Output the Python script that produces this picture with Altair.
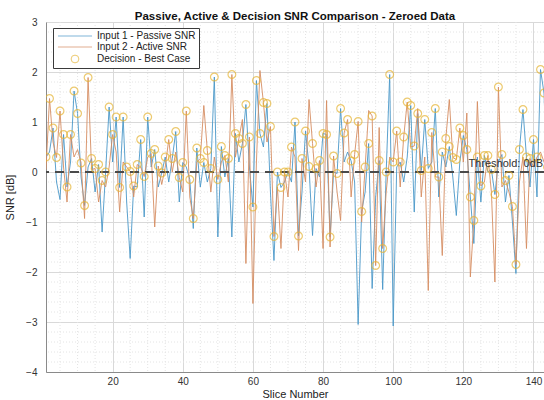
import altair as alt
import pandas as pd

slices = list(range(1, 145))

decision = [0.30, 1.47, 0.88, 0.29, 1.22, 0.75, -0.30, 0.75, 1.62, 1.17,
            0.18, -0.67, 1.89, 0.27, 0.07, 0.15, -0.17, 0.00, 1.30, 0.75,
            1.10, -0.31, 1.10, 0.10, 0.01, -0.28, 0.15, 0.65, -0.09, 1.10,
            0.37, 0.45, 0.12, -0.02, 0.30, 0.65, 0.27, 0.81, -0.11, 0.19,
            1.22, -0.15, -0.93, 0.48, 0.27, 0.19, 0.43, 0.07, 1.90, -0.15,
            0.51, 0.33, 0.27, 1.95, 0.77, 0.67, 0.57, 1.35, 0.70, -0.70,
            1.83, 0.77, 1.39, 1.37, 0.91, -1.29, 0.00, -0.31, 0.00, 0.00,
            0.50, 1.00, -1.28, 0.27, 0.82, 0.11, 0.57, 0.07, 0.23, 0.77,
            0.75, -1.30, 0.32, -0.03, 1.27, 0.78, 1.05, 0.22, 0.35, 1.01,
            -0.79, 0.10, 0.57, 1.12, -1.87, 0.23, -1.53, 0.00, 1.95, 0.20,
            0.82, 0.20, 0.70, 1.40, 1.33, 0.52, 1.17, 0.03, 1.05, 0.07,
            0.79, 1.27, -0.10, 0.40, 0.67, 0.51, 0.29, 0.25, 0.88, 0.73,
            0.45, -0.50, -0.97, 0.30, -0.28, 0.33, 0.33, 0.05, -0.45, 1.70,
            0.35, -0.17, -0.07, -0.69, -1.85, 0.45, 1.25, 0.30, 0.27, 0.65,
            0.30, 2.05, 1.58, 0.10]

passive = [0.30, 0.40, 0.88, -0.20, -0.55, 0.75, -0.30, 0.20, 1.62, 1.17,
           -0.10, -0.67, 0.10, 0.27, -0.40, 0.15, -1.20, 0.00, 1.30, 0.20,
           1.10, -0.31, 1.10, -0.60, -1.73, -0.28, -0.30, 0.65, -0.90, 1.10,
           0.10, 0.45, -0.30, -0.02, 0.30, -0.20, 0.27, 0.81, -0.60, 0.19,
           0.10, -0.15, -1.13, 0.48, -0.30, 0.19, -0.20, 0.07, 1.90, -1.30,
           0.51, -0.10, 0.27, -1.30, 0.77, 0.20, 0.57, 1.35, 0.10, -0.70,
           1.83, 0.77, 0.50, 1.37, -0.40, -1.77, 0.00, -0.31, -0.20, 0.00,
           -0.20, 1.00, -1.28, -0.40, 0.82, 0.11, -1.27, 0.07, -0.10, 0.77,
           0.75, -1.30, 0.00, -0.03, 1.27, 0.20, 0.40, 0.22, -0.20, -3.05,
           -0.79, -0.40, 0.57, -2.33, -0.50, 0.23, -2.35, 0.00, 1.95, -3.08,
           0.10, 0.20, -0.20, 0.30, 1.33, -0.80, 1.17, 0.03, 1.05, 0.07,
           0.20, 1.27, -0.50, 0.40, 0.10, 0.51, -0.10, -0.87, 0.20, 0.73,
           0.45, -0.50, -1.43, 0.30, -0.60, 0.33, 0.00, 0.05, -0.45, 0.20,
           0.35, -0.60, -0.07, -1.00, -2.03, 0.45, 1.25, 0.30, -0.30, 0.65,
           -0.50, 2.05, 1.58, -0.30]

active = [0.05, 1.47, 0.60, 0.29, 1.22, 0.10, -0.60, 0.75, 0.30, 0.45,
          0.18, -0.93, 1.89, 0.05, 0.07, -0.60, -0.17, -0.30, 0.10, 0.75,
          0.40, -0.80, 0.20, 0.10, 0.01, -0.50, 0.15, 0.10, -0.09, 0.30,
          0.37, -1.10, 0.12, -0.25, 0.10, 0.65, 0.00, 0.40, -0.11, -0.40,
          1.22, -0.50, -0.93, 0.20, 0.27, 1.33, 0.43, -0.40, 0.30, -0.15,
          0.20, 0.33, -0.20, 1.95, 0.30, 0.67, 1.05, -1.83, 0.70, -2.63,
          0.20, 2.03, 1.39, 0.60, 0.91, -1.29, -0.30, -1.53, 0.00, -0.50,
          0.50, 0.30, -1.57, 0.27, -0.20, 1.45, 0.57, -0.30, 0.23, -1.53,
          1.43, -1.50, 0.32, -0.40, -0.97, 0.78, 1.05, -0.50, 0.35, 1.01,
          -1.00, 0.10, 1.23, 1.12, -1.87, 0.89, -1.53, -0.40, 0.30, 0.20,
          0.82, -0.30, 0.70, 1.40, 0.50, 0.52, 1.27, -0.50, 0.30, -2.37,
          0.79, -0.10, -0.10, -1.67, 0.67, 1.45, 0.29, 0.25, 0.88, 0.20,
          1.18, -2.10, -0.97, 1.41, -0.28, -0.20, 0.33, -0.40, -2.20, 1.70,
          -0.30, -0.17, -0.40, -0.69, -1.85, -0.20, 0.30, -1.53, 0.27, 0.10,
          0.30, 0.40, 0.20, 0.10]

series_names = ["Input 1 - Passive SNR", "Input 2 - Active SNR", "Decision - Best Case"]
series_colors = ["#4a97c8", "#d68d62", "#e6b535"]
threshold = [0]
threshold_label = ["Threshold: 0dB"]
x_ticks = [20, 40, 60, 80, 100, 120, 140]
y_ticks = [-4, -3, -2, -1, 0, 1, 2, 3]
minor_x = [v for v in range(5, 145, 5) if v % 20 != 0]
minor_y = [round(-4 + 0.2 * i, 1) for i in range(36) if abs(round(-4 + 0.2 * i, 1) % 1) > 1e-6]

rows = []
for i, s in enumerate(slices):
    rows.append({"x": s, "snr": passive[i], "series": series_names[0]})
    rows.append({"x": s, "snr": active[i], "series": series_names[1]})
    rows.append({"x": s, "snr": decision[i], "series": series_names[2]})
df = pd.DataFrame(rows)

FONT = "Liberation Sans"
xscale = alt.Scale(domain=[1, 143], nice=False, zero=False)
yscale = alt.Scale(domain=[-4, 3], nice=False, zero=False)

legend = alt.Legend(
    title=None, orient="none", legendX=7, legendY=6,
    fillColor="white", strokeColor="#3a3a3a", padding=3,
    labelFont=FONT, labelFontSize=10, labelColor="#222",
    symbolSize=60, symbolStrokeWidth=1, symbolOffset=14, labelOffset=17,
    rowPadding=1, cornerRadius=0,
)
color = alt.Color("series:N", scale=alt.Scale(domain=series_names, range=series_colors), legend=legend)
shape = alt.Shape("series:N", scale=alt.Scale(domain=series_names,
                  range=["M-4.4,0H4.4", "M-4.4,0H4.4", "circle"]), legend=legend)

base = alt.Chart(df)

minor_x_grid = alt.Chart(pd.DataFrame({"v": minor_x})).mark_rule(
    color="#e4e4e4", strokeDash=[1, 2], strokeWidth=1
).encode(x=alt.X("v:Q", scale=xscale))
minor_y_grid = alt.Chart(pd.DataFrame({"v": minor_y})).mark_rule(
    color="#e4e4e4", strokeDash=[1, 2], strokeWidth=1
).encode(y=alt.Y("v:Q", scale=yscale))

axis_x = alt.Axis(values=x_ticks, title="Slice Number", grid=True, gridColor="#d9d9d9",
                  labelFont=FONT, labelFontSize=10, labelColor="#333", titleFont=FONT,
                  titleFontSize=11, titleFontWeight="normal", titleColor="#222",
                  domainColor="#8a8a8a", ticks=False, labelPadding=4, titlePadding=2)
axis_y = alt.Axis(values=y_ticks, title="SNR [dB]", grid=True, gridColor="#d9d9d9",
                  labelFont=FONT, labelFontSize=10, labelColor="#333", titleFont=FONT,
                  titleFontSize=11, titleFontWeight="normal", titleColor="#222",
                  domainColor="#8a8a8a", ticks=False, labelPadding=9, titlePadding=10)

passive_line = base.transform_filter(alt.datum.series == series_names[0]).mark_line(
    strokeWidth=0.9, clip=True
).encode(x=alt.X("x:Q", scale=xscale, axis=axis_x), y=alt.Y("snr:Q", scale=yscale, axis=axis_y), color=color)

active_line = base.transform_filter(alt.datum.series == series_names[1]).mark_line(
    strokeWidth=0.9, clip=True
).encode(x=alt.X("x:Q", scale=xscale), y=alt.Y("snr:Q", scale=yscale), color=color)

thr = alt.Chart(pd.DataFrame({"t": threshold})).mark_rule(
    color="#4a4a4a", strokeWidth=2, strokeDash=[9, 6]
).encode(y=alt.Y("t:Q", scale=yscale))

thr_text = alt.Chart(pd.DataFrame({"t": threshold, "label": threshold_label, "xpos": [143]})).mark_text(
    align="right", baseline="alphabetic", dx=-1, dy=-5, font=FONT, fontSize=11, color="#333"
).encode(x=alt.X("xpos:Q", scale=xscale), y=alt.Y("t:Q", scale=yscale), text="label:N")

points = base.transform_filter(alt.datum.series == series_names[2]).mark_point(
    filled=False, size=60, strokeWidth=1.2, clip=True
).encode(x=alt.X("x:Q", scale=xscale), y=alt.Y("snr:Q", scale=yscale), color=color, shape=shape)

chart = alt.layer(
    minor_x_grid, minor_y_grid, passive_line, active_line, thr, points, thr_text
).properties(
    width=498, height=350, autosize="none",
    padding={"left": 46, "top": 22, "right": 0, "bottom": 28},
    title=alt.Title("Passive, Active & Decision SNR Comparison - Zeroed Data",
                    font=FONT, fontSize=11.5, fontWeight="bold", color="#111", offset=0, dy=5),
).configure_view(stroke="#8a8a8a", strokeWidth=1).configure(background="white")

chart.save("out.html", embed_options={"renderer": "svg", "actions": False})
